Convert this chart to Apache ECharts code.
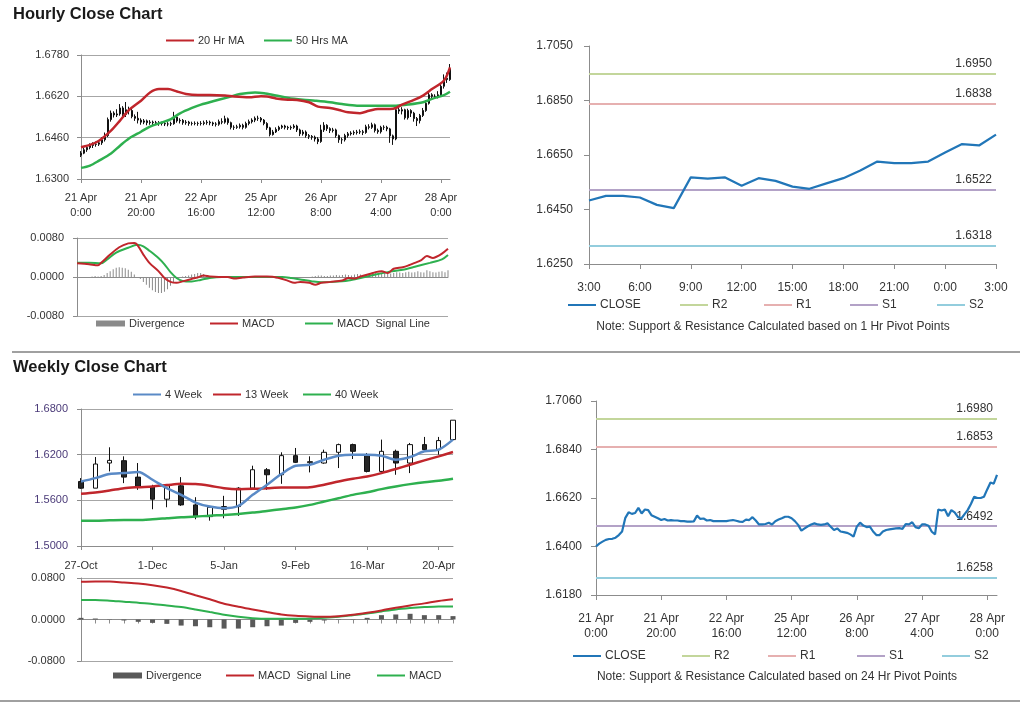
<!DOCTYPE html>
<html><head><meta charset="utf-8">
<script src="https://cdn.jsdelivr.net/npm/echarts@6/dist/echarts.min.js"></script>
<style>html,body{margin:0;padding:0;background:#fff}#c{width:1024px;height:704px}</style>
</head><body><div id="c"></div>
<script>
// ---------------- DATA ----------------
const hourlyTicks = ['21 Apr\n0:00','21 Apr\n20:00','22 Apr\n16:00','25 Apr\n12:00','26 Apr\n8:00','27 Apr\n4:00','28 Apr\n0:00'];
const hourlyCloses = [1.6400,1.6413,1.6422,1.6430,1.6434,1.6435,1.6440,1.6452,1.6468,1.6530,
 1.6555,1.6548,1.6552,1.6575,1.6550,1.6568,1.6565,1.6542,1.6535,1.6528,
 1.6520,1.6525,1.6518,1.6520,1.6518,1.6518,1.6515,1.6515,1.6513,1.6513,
 1.6514,1.6540,1.6525,1.6527,1.6518,1.6520,1.6515,1.6515,1.6515,1.6515,
 1.6515,1.6518,1.6520,1.6517,1.6513,1.6512,1.6522,1.6520,1.6533,1.6518,
 1.6500,1.6500,1.6502,1.6508,1.6500,1.6515,1.6522,1.6528,1.6535,1.6535,
 1.6528,1.6515,1.6498,1.6472,1.6482,1.6492,1.6500,1.6505,1.6500,1.6498,
 1.6500,1.6505,1.6490,1.6475,1.6482,1.6468,1.6465,1.6462,1.6455,1.6445,
 1.6490,1.6508,1.6495,1.6488,1.6490,1.6468,1.6452,1.6452,1.6468,1.6475,
 1.6478,1.6480,1.6482,1.6483,1.6480,1.6502,1.6500,1.6510,1.6488,1.6483,
 1.6500,1.6500,1.6494,1.6467,1.6455,1.6568,1.6563,1.6568,1.6537,1.6565,
 1.6555,1.6534,1.6526,1.6546,1.6565,1.6593,1.6626,1.6620,1.6620,1.6626,
 1.6659,1.6690,1.6685,1.6725];
const hourlyOpens = [1.6392,1.6400,1.6413,1.6422,1.6430,1.6434,1.6435,1.6440,1.6452,1.6468,
 1.6530,1.6555,1.6548,1.6552,1.6575,1.6550,1.6568,1.6565,1.6542,1.6535,
 1.6528,1.6520,1.6525,1.6518,1.6520,1.6518,1.6518,1.6515,1.6515,1.6513,
 1.6513,1.6514,1.6540,1.6525,1.6527,1.6518,1.6520,1.6515,1.6515,1.6515,
 1.6515,1.6515,1.6518,1.6520,1.6517,1.6513,1.6512,1.6522,1.6520,1.6533,
 1.6518,1.6500,1.6500,1.6502,1.6508,1.6500,1.6515,1.6522,1.6528,1.6535,
 1.6535,1.6528,1.6515,1.6498,1.6472,1.6482,1.6492,1.6500,1.6505,1.6500,
 1.6498,1.6500,1.6505,1.6490,1.6475,1.6482,1.6468,1.6465,1.6462,1.6455,
 1.6445,1.6490,1.6508,1.6495,1.6488,1.6490,1.6468,1.6452,1.6452,1.6468,
 1.6475,1.6478,1.6480,1.6482,1.6483,1.6480,1.6502,1.6500,1.6510,1.6488,
 1.6483,1.6500,1.6500,1.6494,1.6467,1.6455,1.6568,1.6563,1.6568,1.6537,
 1.6565,1.6555,1.6534,1.6526,1.6546,1.6565,1.6593,1.6626,1.6620,1.6620,
 1.6626,1.6659,1.6690,1.6685];
const hourlyLows = [1.6385,1.6396,1.6405,1.6415,1.6420,1.6425,1.6428,1.6432,1.6445,1.6462,
 1.6522,1.6538,1.6540,1.6545,1.6542,1.6540,1.6550,1.6535,1.6525,1.6515,
 1.6510,1.6512,1.6508,1.6510,1.6508,1.6510,1.6506,1.6507,1.6505,1.6504,
 1.6505,1.6510,1.6518,1.6515,1.6510,1.6510,1.6506,1.6507,1.6508,1.6506,
 1.6507,1.6508,1.6510,1.6508,1.6505,1.6503,1.6506,1.6512,1.6514,1.6510,
 1.6492,1.6490,1.6494,1.6495,1.6492,1.6495,1.6508,1.6515,1.6520,1.6525,
 1.6520,1.6508,1.6490,1.6465,1.6468,1.6478,1.6486,1.6494,1.6492,1.6490,
 1.6490,1.6494,1.6482,1.6466,1.6468,1.6460,1.6455,1.6452,1.6445,1.6435,
 1.6440,1.6482,1.6486,1.6478,1.6480,1.6460,1.6440,1.6436,1.6445,1.6460,
 1.6468,1.6470,1.6472,1.6474,1.6470,1.6475,1.6492,1.6494,1.6480,1.6475,
 1.6476,1.6490,1.6485,1.6440,1.6432,1.6450,1.6552,1.6550,1.6530,1.6530,
 1.6540,1.6522,1.6505,1.6515,1.6540,1.6560,1.6588,1.6610,1.6612,1.6612,
 1.6620,1.6650,1.6672,1.6680];
const hourlyHighs = [1.6408,1.6420,1.6428,1.6438,1.6442,1.6445,1.6450,1.6462,1.6480,1.6538,
 1.6565,1.6562,1.6570,1.6590,1.6582,1.6598,1.6580,1.6572,1.6550,1.6560,
 1.6535,1.6532,1.6530,1.6528,1.6526,1.6525,1.6524,1.6522,1.6522,1.6520,
 1.6522,1.6560,1.6545,1.6535,1.6532,1.6528,1.6525,1.6522,1.6523,1.6522,
 1.6524,1.6526,1.6528,1.6526,1.6522,1.6520,1.6530,1.6535,1.6545,1.6538,
 1.6522,1.6508,1.6510,1.6515,1.6514,1.6522,1.6530,1.6535,1.6542,1.6545,
 1.6540,1.6532,1.6520,1.6502,1.6490,1.6500,1.6506,1.6510,1.6510,1.6506,
 1.6507,1.6512,1.6510,1.6495,1.6490,1.6488,1.6474,1.6470,1.6468,1.6462,
 1.6510,1.6520,1.6512,1.6500,1.6498,1.6495,1.6472,1.6460,1.6475,1.6482,
 1.6485,1.6488,1.6490,1.6492,1.6490,1.6510,1.6512,1.6518,1.6515,1.6495,
 1.6506,1.6508,1.6506,1.6498,1.6472,1.6580,1.6582,1.6578,1.6572,1.6572,
 1.6570,1.6560,1.6540,1.6552,1.6575,1.6605,1.6640,1.6632,1.6628,1.6640,
 1.6672,1.6705,1.6712,1.6745];
// moving averages: [hour index, value]
const hourlyMa20 = [[0,1.6423],[3,1.6432],[6,1.6448],[10,1.6487],[13,1.6526],[16,1.6567],[20,1.6603],[23,1.6635],[26,1.6648],[29,1.6648],[32,1.6639],[35,1.6629],[39,1.6625],[43,1.6625],[48,1.6623],[51,1.6619],[56,1.6616],[60,1.6620],[62,1.6619],[65,1.6612],[69,1.6607],[72,1.6606],[76,1.6597],[79,1.6580],[83,1.6575],[86,1.6567],[89,1.6558],[93,1.6555],[96,1.6564],[99,1.6571],[103,1.6571],[105,1.6575],[107,1.6588],[111,1.6606],[114,1.6623],[117,1.6648],[121,1.6681],[123,1.6732]];
const hourlyMa50 = [[0,1.6343],[3,1.6352],[6,1.6371],[10,1.6399],[13,1.6429],[16,1.6457],[20,1.6483],[23,1.6503],[27,1.6519],[30,1.6532],[33,1.6554],[37,1.6575],[40,1.6588],[44,1.6601],[49,1.6616],[53,1.6629],[58,1.6635],[61,1.6632],[65,1.6623],[69,1.6614],[74,1.6607],[78,1.6603],[83,1.6597],[87,1.6590],[92,1.6584],[96,1.6584],[101,1.6584],[105,1.6584],[109,1.6588],[114,1.6597],[117,1.6610],[121,1.6625],[123,1.6638]];
const hourlyMacd = [[0,0.0028],[4,0.0026],[7,0.0024],[8,0.0029],[11,0.0046],[14,0.0061],[17,0.0069],[19,0.0070],[20,0.0066],[22,0.0046],[24,0.0029],[27,0.0012],[29,-0.0002],[31,-0.0010],[33,-0.0012],[35,-0.0009],[38,-0.0004],[40,-0.0001],[42,0.0003],[44,0.0001],[47,0.0000],[50,0.0000],[52,-0.0003],[55,-0.0001],[59,0.0001],[63,0.0001],[67,-0.0002],[70,-0.0008],[72,-0.0012],[74,-0.0010],[77,-0.0012],[79,-0.0016],[81,-0.0012],[84,-0.0010],[88,-0.0007],[90,-0.0002],[92,-0.0003],[94,0.0001],[97,0.0006],[99,0.0010],[101,0.0012],[103,0.0008],[105,0.0017],[108,0.0020],[110,0.0024],[112,0.0029],[114,0.0034],[116,0.0043],[118,0.0039],[119,0.0041],[121,0.0048],[123,0.0058]];
const hourlySignal = [[0,0.0029],[4,0.0029],[8,0.0028],[10,0.0036],[13,0.0050],[17,0.0060],[20,0.0066],[22,0.0063],[24,0.0054],[27,0.0039],[29,0.0026],[31,0.0010],[33,-0.0002],[35,-0.0008],[38,-0.0009],[41,-0.0006],[44,-0.0002],[48,0.0000],[60,0.0000],[68,0.0000],[71,-0.0002],[74,-0.0005],[78,-0.0009],[81,-0.0011],[85,-0.0010],[90,-0.0007],[94,-0.0002],[99,0.0005],[103,0.0010],[108,0.0015],[112,0.0021],[117,0.0029],[121,0.0036],[123,0.0045]];
const hourlyDivergence = [0,0,0,0,0,0.0001,0.0002,0.0001,0.0002,
 0.0004,0.0008,0.0012,0.0016,0.0019,0.0020,0.0019,0.0018,0.0015,0.0011,0.0005,
 0,-0.0004,-0.0010,-0.0016,-0.0022,-0.0027,-0.0031,-0.0033,-0.0033,-0.0030,-0.0025,-0.0018,-0.0010,-0.0004,
 0,0.0001,0.0002,0.0003,
 0.0005,0.0006,0.0008,0.0008,0.0006,0.0003,
 0.0001,0,0,0.0001,0.0002,0.0001,0,0,0.0001,0.0001,0.0002,0.0002,0.0001,0.0001,
 0.0002,0.0002,0.0001,0.0001,0,-0.0001,-0.0002,-0.0002,-0.0003,-0.0003,-0.0002,-0.0002,
 -0.0003,-0.0002,-0.0002,-0.0003,-0.0002,-0.0001,-0.0001,0,0.0001,0.0002,0.0003,0.0003,0.0002,0.0002,0.0003,0.0003,
 0.0004,0.0003,0.0004,0.0005,0.0004,0.0003,0.0005,0.0006,0.0005,0.0004,0.0006,0.0007,0.0006,0.0008,0.0007,0.0006,0.0008,0.0009,0.0007,0.0008,
 0.0010,0.0009,0.0008,0.0010,0.0011,0.0009,0.0010,0.0012,0.0010,0.0009,0.0014,0.0012,0.0010,0.0009,0.0011,0.0012,0.0010,0.0014];

const pivot1hHours = ['3:00','4:00','5:00','6:00','7:00','8:00','9:00','10:00','11:00','12:00','13:00','14:00','15:00','16:00','17:00','18:00','19:00','20:00','21:00','22:00','23:00','0:00','1:00','2:00','3:00'];
const pivot1hCloses = [1.6483,1.6500,1.6500,1.6494,1.6467,1.6455,1.6568,1.6563,1.6568,1.6537,1.6565,1.6555,1.6534,1.6526,1.6546,1.6565,1.6593,1.6626,1.6620,1.6620,1.6626,1.6659,1.6690,1.6685,1.6725];
const pivot1hLevels = [1.6950, 1.6838, 1.6522, 1.6318];   // R2, R1, S1, S2
const pivot24hLevels = [1.6980, 1.6853, 1.6492, 1.6258];  // R2, R1, S1, S2

const weeklyTicks = ['27-Oct','1-Dec','5-Jan','9-Feb','16-Mar','20-Apr'];
const weeklyOpen  = [1.5848,1.5760,1.6090,1.6121,1.5905,1.5782,1.5615,1.5791,1.5540,1.5386,1.5518,1.5518,1.5760,1.6002,1.5936,1.6187,1.6095,1.6090,1.6231,1.6332,1.6200,1.5980,1.6244,1.6090,1.6332,1.6266,1.6398];
const weeklyClose = [1.5760,1.6077,1.6125,1.5905,1.5782,1.5615,1.5791,1.5540,1.5386,1.5509,1.5483,1.5760,1.6002,1.5936,1.6187,1.6099,1.6108,1.6231,1.6332,1.6244,1.5980,1.6244,1.6090,1.6332,1.6266,1.6385,1.6653];
const weeklyLow   = [1.5751,1.5760,1.5980,1.5826,1.5738,1.5483,1.5509,1.5527,1.5351,1.5333,1.5364,1.5395,1.5738,1.5738,1.5817,1.6090,1.5967,1.6081,1.6024,1.6143,1.5967,1.5967,1.5936,1.5958,1.6244,1.6200,1.6398];
const weeklyHigh  = [1.5892,1.6169,1.6297,1.6178,1.6090,1.5804,1.5804,1.5905,1.5641,1.5527,1.5659,1.5773,1.6055,1.6024,1.6231,1.6288,1.6178,1.6266,1.6345,1.6345,1.6222,1.6398,1.6266,1.6354,1.6433,1.6433,1.6653];
const weeklyMa4  = [1.5848,1.5892,1.5945,1.5958,1.5971,1.5870,1.5760,1.5672,1.5571,1.5518,1.5496,1.5527,1.5672,1.5804,1.5945,1.6055,1.6068,1.6134,1.6187,1.6200,1.6200,1.6187,1.6134,1.6169,1.6244,1.6266,1.6398];
const weeklyMa13 = [1.5685,1.5703,1.5729,1.5760,1.5773,1.5782,1.5800,1.5817,1.5813,1.5791,1.5760,1.5747,1.5751,1.5760,1.5769,1.5769,1.5773,1.5804,1.5848,1.5883,1.5914,1.5958,1.6011,1.6068,1.6125,1.6178,1.6235];
const weeklyMa40 = [1.5333,1.5333,1.5338,1.5342,1.5342,1.5351,1.5364,1.5377,1.5386,1.5399,1.5408,1.5421,1.5439,1.5461,1.5483,1.5505,1.5540,1.5584,1.5628,1.5672,1.5707,1.5747,1.5782,1.5813,1.5839,1.5857,1.5883];
const weeklySignal = [0.0726,0.0732,0.0732,0.0713,0.0693,0.0661,0.0616,0.0551,0.0467,0.0389,0.0305,0.0246,0.0194,0.0143,0.0097,0.0071,0.0058,0.0052,0.0065,0.0091,0.0130,0.0175,0.0227,0.0272,0.0311,0.0356,0.0389];
const weeklyMacd   = [0.0376,0.0376,0.0363,0.0343,0.0324,0.0298,0.0272,0.0240,0.0194,0.0143,0.0091,0.0052,0.0026,0.0013,0.0013,0.0013,0.0019,0.0032,0.0052,0.0084,0.0117,0.0156,0.0194,0.0220,0.0240,0.0253,0.0253];
const weeklyDivergence = [0.0032,0.0019,0.0005,-0.0019,-0.0045,-0.0065,-0.0084,-0.0117,-0.0130,-0.0149,-0.0175,-0.0175,-0.0149,-0.0130,-0.0117,-0.0065,-0.0045,-0.0019,-0.0006,0.0006,0.0032,0.0084,0.0097,0.0110,0.0084,0.0084,0.0065];

// ---------------- CHART ----------------
const FF = '"Liberation Sans", Arial, Helvetica, sans-serif';
const TXT = '#333333';
const AX = '#8c8c8c';
const GRID = '#a6a6a6';
const RED = '#c0262c', GREEN = '#2eb04f', BLUE4 = '#5a8ac6', CLOSE = '#2176b8';
const LEVEL_COLORS = ['#c3d69b', '#e6b0b0', '#b3a2c7', '#93cddd'];
const LEVEL_NAMES = ['R2','R1','S1','S2'];

const hourIdx = hourlyCloses.map((_, i) => i);
const weekIdx = weeklyClose.map((_, i) => i);
const hourlyCandles = hourlyCloses.map((c, i) => [hourlyOpens[i], c, hourlyLows[i], hourlyHighs[i]]);
const weeklyCandles = weeklyClose.map((c, i) => [weeklyOpen[i], c, weeklyLow[i], weeklyHigh[i]]);

const legendNames = {
  h_ma20:'20 Hr MA', h_ma50:'50 Hrs MA', h_div:'Divergence', h_macd:'MACD', h_sig:'MACD  Signal Line',
  p1_close:'CLOSE', p1_R2:'R2', p1_R1:'R1', p1_S1:'S1', p1_S2:'S2',
  w_ma4:'4 Week', w_ma13:'13 Week', w_ma40:'40 Week', w_div:'Divergence', w_sig:'MACD  Signal Line', w_macd:'MACD',
  p24_close:'CLOSE', p24_R2:'R2', p24_R1:'R1', p24_S1:'S1', p24_S2:'S2'
};

const grids = [
  {left: 81, top: 55, width: 369, height: 124},   // hourly candles
  {left: 77, top: 238, width: 371, height: 78},   // hourly MACD
  {left: 589, top: 46, width: 407, height: 218},  // 1hr pivot
  {left: 81, top: 409, width: 372, height: 137},  // weekly candles
  {left: 81, top: 578, width: 372, height: 83},   // weekly MACD
  {left: 596, top: 401, width: 401, height: 194}  // 24hr pivot
];

const lbl = (size, extra) => Object.assign({fontSize: size, color: TXT, fontFamily: FF}, extra || {});
const fmt4 = v => v.toFixed(4);

const xAxes = [
  {gridIndex:0, type:'category', data: hourIdx, boundaryGap:false,
   axisLine:{lineStyle:{color:AX}}, axisTick:{interval:19, length:4, lineStyle:{color:AX}},
   axisLabel: lbl(11, {interval:19, lineHeight:15, margin:11, formatter:(v,i)=>hourlyTicks[i/20] || ''}), splitLine:{show:false}},
  {gridIndex:1, type:'category', data: hourIdx, boundaryGap:false,
   axisLine:{onZero:true, lineStyle:{color:AX}}, axisTick:{show:false}, axisLabel:{show:false}, splitLine:{show:false}},
  {gridIndex:2, type:'category', data: pivot1hHours, boundaryGap:false,
   axisLine:{lineStyle:{color:AX}}, axisTick:{interval:2, length:5, lineStyle:{color:AX}},
   axisLabel: lbl(12, {interval:2, margin:18}), splitLine:{show:false}},
  {gridIndex:3, type:'category', data: weekIdx, boundaryGap:false,
   axisLine:{lineStyle:{color:AX}}, axisTick:{interval:4, length:4, lineStyle:{color:AX}},
   axisLabel: lbl(11, {interval:4, margin:14, formatter:(v,i)=>weeklyTicks[i/5] || ''}), splitLine:{show:false}},
  {gridIndex:4, type:'category', data: weekIdx, boundaryGap:false,
   axisLine:{onZero:true, lineStyle:{color:AX}}, axisTick:{interval:0, length:4, lineStyle:{color:AX}},
   axisLabel:{show:false}, splitLine:{show:false}},
  {gridIndex:5, type:'category', data: hourIdx, boundaryGap:false,
   axisLine:{lineStyle:{color:AX}}, axisTick:{interval:19, length:5, lineStyle:{color:AX}},
   axisLabel: lbl(12, {interval:19, lineHeight:15, margin:16, formatter:(v,i)=>hourlyTicks[i/20] || ''}), splitLine:{show:false}}
];

const yLeft = (gi, min, max, interval, size, margin, color) => ({
  gridIndex: gi, type:'value', min, max, interval, scale:true,
  axisLine:{show:true, lineStyle:{color:AX}}, axisTick:{show:true, length:4, lineStyle:{color:AX}},
  splitLine:{show:true, lineStyle:{color:GRID, width:1}},
  axisLabel: lbl(size, {formatter: fmt4, margin, color: color || TXT})
});
const yRight = (gi, min, max, interval, margin) => ({
  gridIndex: gi, type:'value', min, max, interval, scale:true,
  axisLine:{show:true, lineStyle:{color:AX}}, axisTick:{show:true, length:5, lineStyle:{color:AX}},
  splitLine:{show:false},
  axisLabel: lbl(12, {formatter: fmt4, margin})
});

const yAxes = [
  yLeft(0, 1.6300, 1.6780, 0.0160, 11, 12),
  yLeft(1, -0.0080, 0.0080, 0.0080, 11, 13),
  yRight(2, 1.6250, 1.7050, 0.0200, 16),
  yLeft(3, 1.5000, 1.6800, 0.0600, 11, 13, '#4a3a78'),
  yLeft(4, -0.0800, 0.0800, 0.0800, 11, 16),
  yRight(5, 1.6180, 1.7060, 0.0220, 14)
];

const lineS = (name, xi, data, color, width, z) => ({
  name, type:'line', xAxisIndex:xi, yAxisIndex:xi, data, smooth:0.3, symbol:'none', showSymbol:false,
  lineStyle:{color, width}, itemStyle:{color}, z: z || 3, animation:false
});
const levelSeries = (prefix, xi, levels) => levels.map((v, k) => ({
  name: prefix + LEVEL_NAMES[k], type:'line', xAxisIndex:xi, yAxisIndex:xi, data:[], symbol:'none',
  lineStyle:{color:LEVEL_COLORS[k], width:2}, itemStyle:{color:LEVEL_COLORS[k]}, z:2, animation:false,
  markLine:{silent:true, symbol:['none','none'], animation:false, precision:4,
    lineStyle:{color:LEVEL_COLORS[k], width:2, type:'solid'},
    label:{show:true, position:'insideEndTop', distance:[4,4], formatter: () => v.toFixed(4),
      fontSize:12, color:TXT, fontFamily:FF},
    data:[{yAxis: v}]}
}));

const series = [
  {name:'h_candle', type:'candlestick', xAxisIndex:0, yAxisIndex:0, data: hourlyCandles, barWidth:1.6,
   itemStyle:{color:'#111', color0:'#111', borderColor:'#111', borderColor0:'#111', borderWidth:1}, z:2, animation:false},
  lineS('h_ma20', 0, hourlyMa20, RED, 2.5, 4),
  lineS('h_ma50', 0, hourlyMa50, GREEN, 2.5, 3),

  {name:'h_div', type:'bar', xAxisIndex:1, yAxisIndex:1, data: hourlyDivergence, barWidth:1,
   itemStyle:{color:'#8a8a8a'}, z:2, animation:false},
  lineS('h_macd', 1, hourlyMacd, RED, 2, 4),
  lineS('h_sig', 1, hourlySignal, GREEN, 2, 3),

  ...levelSeries('p1_', 2, pivot1hLevels),
  Object.assign(lineS('p1_close', 2, pivot1hCloses, CLOSE, 2.2, 5), {smooth:false}),

  {name:'w_candle', type:'candlestick', xAxisIndex:3, yAxisIndex:3, data: weeklyCandles, barWidth:5,
   itemStyle:{color:'#ffffff', color0:'#262626', borderColor:'#111', borderColor0:'#111', borderWidth:1}, z:2, animation:false},
  lineS('w_ma4', 3, weeklyMa4, BLUE4, 2.5, 5),
  lineS('w_ma13', 3, weeklyMa13, RED, 2.5, 4),
  lineS('w_ma40', 3, weeklyMa40, GREEN, 2.5, 3),

  {name:'w_div', type:'bar', xAxisIndex:4, yAxisIndex:4, data: weeklyDivergence, barWidth:5,
   itemStyle:{color:'#595959'}, z:2, animation:false},
  lineS('w_sig', 4, weeklySignal, RED, 2, 4),
  lineS('w_macd', 4, weeklyMacd, GREEN, 2, 3),

  ...levelSeries('p24_', 5, pivot24hLevels),
  Object.assign(lineS('p24_close', 5, hourlyCloses, CLOSE, 2.2, 5), {smooth:false})
];

const legendPos = [
  ['h_ma20', 166, 42, 11], ['h_ma50', 264, 42, 11],
  ['h_div', 96, 325, 11], ['h_macd', 210, 325, 11], ['h_sig', 305, 325, 11],
  ['p1_close', 568, 306, 12], ['p1_R2', 680, 306, 12], ['p1_R1', 764, 306, 12], ['p1_S1', 850, 306, 12], ['p1_S2', 937, 306, 12],
  ['w_ma4', 133, 396, 11], ['w_ma13', 213, 396, 11], ['w_ma40', 303, 396, 11],
  ['w_div', 113, 677, 11], ['w_sig', 226, 677, 11], ['w_macd', 377, 677, 11],
  ['p24_close', 573, 657, 12], ['p24_R2', 682, 657, 12], ['p24_R1', 768, 657, 12], ['p24_S1', 857, 657, 12], ['p24_S2', 942, 657, 12]
];
const legends = legendPos.map(([name, x, y, fs]) => {
  const isDiv = name.endsWith('_div');
  return {
    left: x, top: y - 7, padding: 0, itemGap: 0, itemWidth: isDiv ? 29 : 28, itemHeight: isDiv ? 6 : 2,
    icon: 'rect', selectedMode: false, data: [name],
    formatter: n => legendNames[n],
    textStyle: {fontSize: fs, color: TXT, fontFamily: FF, padding:[0,0,0,-1]}
  };
});

const graphic = [
  {type:'text', left:13, top:6, style:{text:'Hourly Close Chart', font:'bold 16.5px ' + FF, fill:'#1a1a1a'}},
  {type:'text', left:13, top:359, style:{text:'Weekly Close Chart', font:'bold 16.5px ' + FF, fill:'#1a1a1a'}},
  {type:'line', shape:{x1:12, y1:352, x2:1020, y2:352}, style:{stroke:'#a0a0a0', lineWidth:2}},
  {type:'line', shape:{x1:0, y1:701, x2:1020, y2:701}, style:{stroke:'#a0a0a0', lineWidth:2}},
  {type:'text', x:773, y:327, style:{text:'Note: Support & Resistance Calculated based on 1 Hr Pivot Points', font:'12px ' + FF, fill:TXT, textAlign:'center', textVerticalAlign:'middle'}},
  {type:'text', x:777, y:677, style:{text:'Note: Support & Resistance Calculated based on 24 Hr Pivot Points', font:'12px ' + FF, fill:TXT, textAlign:'center', textVerticalAlign:'middle'}}
];

const chart = echarts.init(document.getElementById('c'), null, {renderer:'canvas'});
chart.setOption({
  animation:false, backgroundColor:'#ffffff',
  textStyle:{fontFamily:FF},
  grid: grids, xAxis: xAxes, yAxis: yAxes, series, legend: legends, graphic
});
</script></body></html>
